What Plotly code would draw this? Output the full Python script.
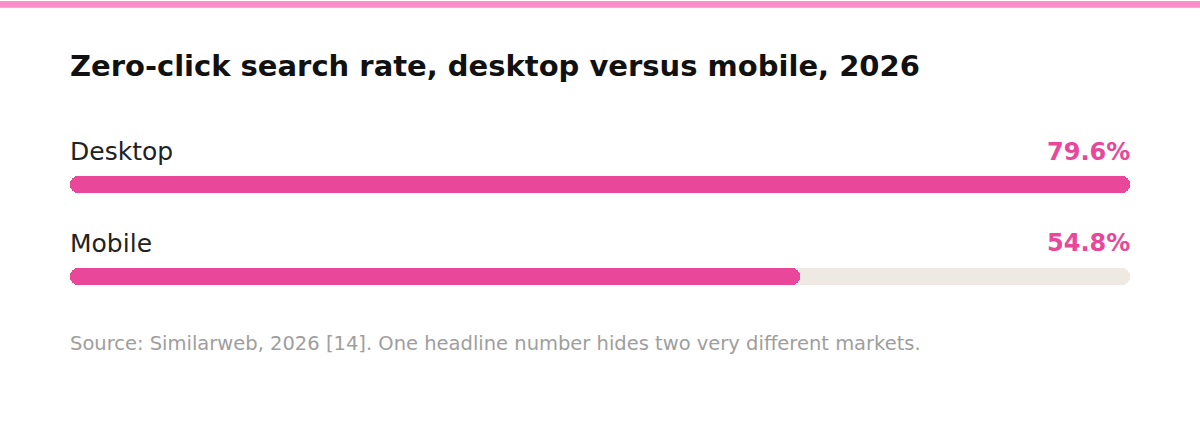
import plotly.graph_objects as go

# data
devices = ["Desktop", "Mobile"]
rates = [79.6, 54.8]
value_labels = ["79.6%", "54.8%"]

title_text = "Zero-click search rate, desktop versus mobile, 2026"
source_text = "Source: Similarweb, 2026 [14]. One headline number hides two very different markets."

PINK = "#E8479A"
TRACK = "#EFE9E4"
STRIP = "#FF8EC8"
FONT = "DejaVu Sans"

W, H = 1200, 425
ML, MR, MT, MB = 70, 70, 92.5, 102.5
plot_h = H - MT - MB
scale_max = max(rates)
ypos = list(range(len(devices)))
bar_w = 0.19


def pill(values, color):
    # two overlapping halves, each rounded at its outer tip -> rounded on both ends
    lo = [v * 0.6 for v in values]
    hi = [v * 0.4 for v in values]
    fig.add_trace(go.Bar(y=ypos, x=[v - b for v, b in zip(values, hi)], base=hi, orientation="h",
                         width=bar_w, marker=dict(color=color, cornerradius="50%", line_width=0),
                         hoverinfo="skip", showlegend=False))
    fig.add_trace(go.Bar(y=ypos, x=[-b for b in lo], base=lo, orientation="h",
                         width=bar_w, marker=dict(color=color, cornerradius="50%", line_width=0),
                         hoverinfo="skip", showlegend=False))


fig = go.Figure()
pill([scale_max for _ in devices], TRACK)
pill(rates, PINK)

for i, dev in enumerate(devices):
    fig.add_annotation(x=0, y=ypos[i], xref="x", yref="y", text=dev, showarrow=False,
                       xanchor="left", yanchor="middle", yshift=33, xshift=-2,
                       font=dict(family=FONT, size=25, color="#222222"))
    fig.add_annotation(x=scale_max, y=ypos[i], xref="x", yref="y", text=value_labels[i],
                       showarrow=False, xanchor="right", yanchor="middle", yshift=33, xshift=2,
                       font=dict(family=FONT, size=24, color=PINK, weight="bold"))

fig.add_annotation(x=0, y=(H - MB - 344) / plot_h, xref="paper", yref="paper",
                   text=source_text, showarrow=False, xanchor="left", yanchor="middle", xshift=-2,
                   font=dict(family=FONT, size=19.5, color="#9E9E9E"))

# pink strip along the top edge
fig.add_shape(type="rect", xref="paper", yref="paper",
              x0=-ML / (W - ML - MR), x1=1 + MR / (W - ML - MR),
              y0=1 + (MT - 7) / plot_h, y1=1 + MT / plot_h,
              fillcolor=STRIP, line_width=0, layer="above")

fig.update_layout(
    width=W, height=H,
    margin=dict(l=ML, r=MR, t=MT, b=MB, pad=0),
    paper_bgcolor="white", plot_bgcolor="white",
    barmode="overlay", bargap=0,
    title=dict(text=title_text, x=ML / W, xanchor="left", y=1 - 66 / H, yanchor="middle",
               font=dict(family=FONT, size=29, color="#111111", weight="bold")),
    xaxis=dict(range=[0, scale_max], visible=False, fixedrange=True),
    yaxis=dict(range=[1.5, -1.0], visible=False, fixedrange=True),
)

fig.write_html("out.html", config={"displayModeBar": False},
               post_script="document.body.style.margin='0';")
